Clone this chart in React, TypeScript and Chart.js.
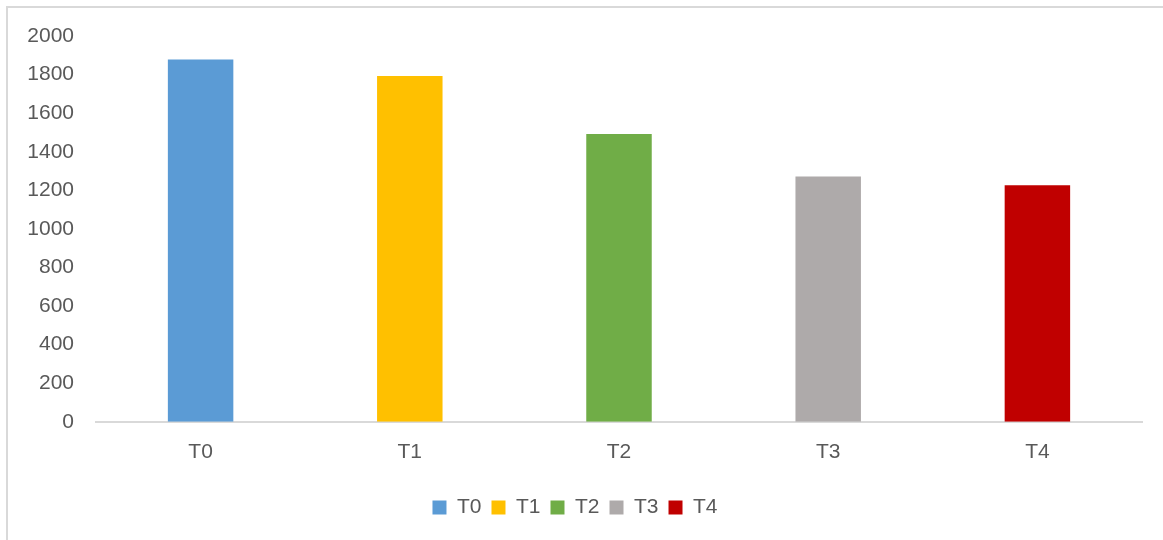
import React, { useEffect, useRef } from "react";
import { Chart, registerables } from "chart.js";

Chart.register(...registerables);

const categories = ["T0", "T1", "T2", "T3", "T4"];
const values = [1878, 1792, 1492, 1272, 1226];
const colors = ["#5B9BD5", "#FFC000", "#70AD47", "#AEAAAA", "#C00000"];
const yTicks = [0, 200, 400, 600, 800, 1000, 1200, 1400, 1600, 1800, 2000];

const FONT = "'Liberation Sans', Arial, sans-serif";
const TEXT = "#595959";
const FS = 21;

export default function App() {
  const ref = useRef<HTMLCanvasElement | null>(null);

  useEffect(() => {
    if (!ref.current) return;
    const chart = new Chart(ref.current, {
      type: "bar",
      data: {
        labels: categories,
        datasets: [
          {
            label: "Values",
            data: values,
            backgroundColor: colors,
            borderWidth: 0,
            barPercentage: 0.313,
            categoryPercentage: 1,
          },
        ],
      },
      options: {
        animation: false,
        responsive: true,
        maintainAspectRatio: false,
        layout: { padding: { top: 28, left: 0, right: 21, bottom: 12 } },
        plugins: {
          tooltip: { enabled: false },
          legend: {
            position: "bottom",
            labels: {
              boxWidth: 14,
              boxHeight: 14,
              padding: 10,
              color: TEXT,
              font: { family: FONT, size: FS },
              generateLabels: () =>
                categories.map((c, i) => ({
                  text: c,
                  fillStyle: colors[i],
                  strokeStyle: colors[i],
                  lineWidth: 0,
                  hidden: false,
                  index: i,
                  fontColor: TEXT,
                })),
            },
            onClick: () => {},
          },
        },
        scales: {
          x: {
            grid: { display: false, drawTicks: false },
            border: { display: true, color: "#D9D9D9", width: 2 },
            ticks: {
              color: TEXT,
              font: { family: FONT, size: FS },
              padding: 18,
            },
            afterFit: (scale: any) => {
              scale.height = scale.height + 4;
            },
          },
          y: {
            min: 0,
            max: 2000,
            afterBuildTicks: (scale: any) => {
              scale.ticks = yTicks.map((v) => ({ value: v }));
            },
            grid: { display: false, drawTicks: false },
            border: { display: false },
            ticks: {
              color: TEXT,
              font: { family: FONT, size: FS },
              padding: 22,
              callback: (v: any) => String(v),
            },
            afterFit: (scale: any) => {
              scale.width = 88;
              scale.paddingTop = 0;
              scale.paddingBottom = 0;
            },
          },
        },
      },
    });
    return () => chart.destroy();
  }, []);

  return (
    <div
      style={{
        position: "absolute",
        left: 6,
        top: 6,
        width: 1157,
        height: 534,
        boxSizing: "border-box",
        borderTop: "2px solid #D9D9D9",
        borderLeft: "2px solid #D9D9D9",
        background: "#fff",
      }}
    >
      <canvas ref={ref} />
    </div>
  );
}
